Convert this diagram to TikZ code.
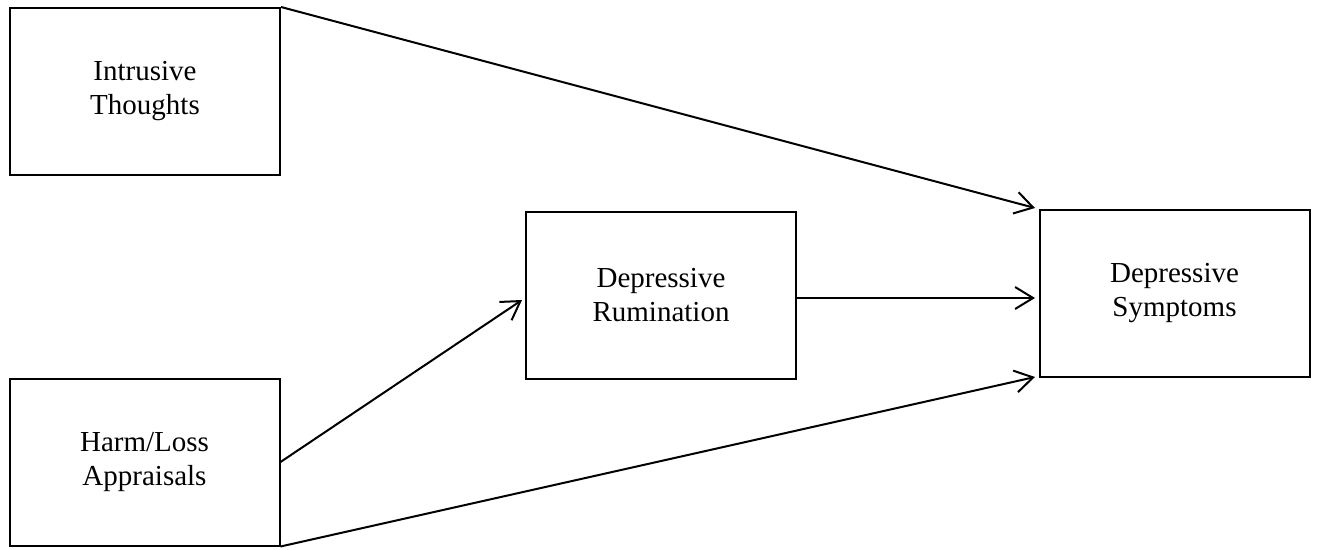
\documentclass[tikz,border=0pt]{standalone}
\usepackage{fontspec}
\setmainfont{Liberation Serif}
\usetikzlibrary{arrows.meta}
\begin{document}
\begin{tikzpicture}[x=1pt,y=-1pt,
  box/.style={draw,line width=2pt,minimum width=270pt,minimum height=167pt,inner sep=0pt,align=center,
    font=\fontsize{29}{34}\selectfont},
  arr/.style={line width=2pt,-{Straight Barb[length=18pt,width=22pt,line width=2pt]}}]
\useasboundingbox (0,0) rectangle (1317,549);
\node[box] (it) at (145,91.5) {Intrusive\\Thoughts};
\node[box] (hl) at (144.5,462) {Harm/Loss\\Appraisals};
\node[box] (ru) at (661,295) {Depressive\\Rumination};
\node[box] (sy) at (1174.5,293) {Depressive\\Symptoms};
\coordinate (e1) at (1035,208);
\coordinate (e2) at (1035,298);
\coordinate (e3) at (1035,377);
\coordinate (e4) at (522,300);
\draw[arr] (it.north east) -- (e1);
\draw[arr] (ru.east |- e2) -- (e2);
\draw[arr] (hl.south east) -- (e3);
\draw[arr] (hl.east) -- (e4);
\end{tikzpicture}
\end{document}
